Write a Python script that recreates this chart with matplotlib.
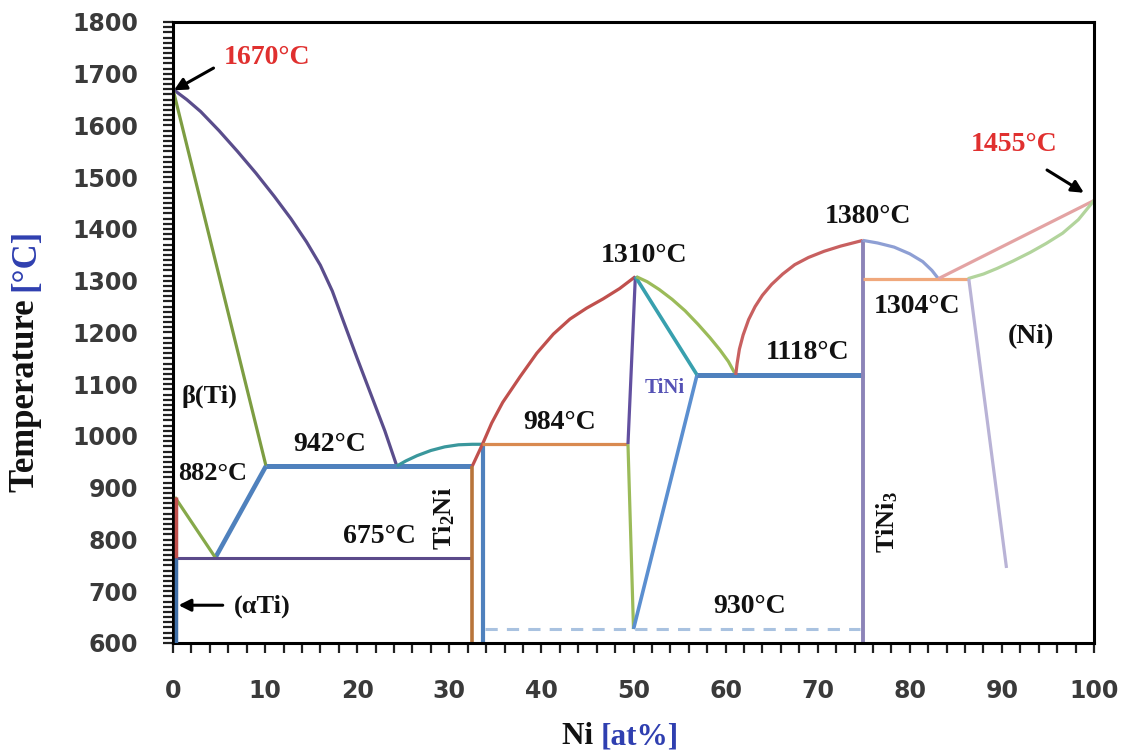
import matplotlib
matplotlib.use('Agg')
import matplotlib.pyplot as plt
from matplotlib.ticker import MultipleLocator

plt.rcParams['mathtext.fontset'] = 'custom'
plt.rcParams['mathtext.rm'] = 'Liberation Serif'
plt.rcParams['mathtext.bf'] = 'Liberation Serif:bold'
plt.rcParams['mathtext.it'] = 'Liberation Serif:italic'

# ---------------- data (Ni at%, Temperature °C) ----------------
liq_ti_x = [0, 1.5, 3, 5, 7, 9, 11, 12.8, 14.5, 16, 17.3, 18.5, 20, 21.5, 23, 24.3]
liq_ti_T = [1670, 1650, 1627, 1590, 1550, 1508, 1463, 1420, 1375, 1330, 1280, 1222, 1150, 1080, 1010, 942]

sol_ti_x = [0, 10.1]
sol_ti_T = [1670, 942]

beta_solvus_x = [4.6, 10.1]
beta_solvus_T = [765, 942]

eut942_x = [10.1, 32.5]
eut942_T = [942, 942]

beta_trans_x = [0.2, 4.6]
beta_trans_T = [882, 765]

alpha_red_x = [0.35, 0.35]
alpha_red_T = [882, 765]

eut765_x = [0, 32.5]
eut765_T = [765, 765]

alpha_blue_x = [0.35, 0.35]
alpha_blue_T = [765, 600]

liq_ti2ni_x = [24.3, 25.3, 26.5, 28, 29.5, 31, 32.5, 33.6]
liq_ti2ni_T = [942, 952, 962, 972, 979, 983, 984, 984]

ti2ni_left_x = [32.5, 32.5]
ti2ni_left_T = [942, 600]

ti2ni_right_x = [33.7, 33.7]
ti2ni_right_T = [984, 600]

liq_mid_x = [32.5, 33.6, 34.6, 35.8, 37.7, 39.5, 41.3, 43.1, 44.9, 46.7, 48.5, 50.2]
liq_mid_T = [942, 984, 1025, 1065, 1115, 1160, 1197, 1226, 1247, 1265, 1285, 1308]

per984_x = [33.6, 49.4]
per984_T = [984, 984]

tini_left_up_x = [49.4, 50.2]
tini_left_up_T = [984, 1308]

tini_left_dn_x = [49.4, 50.0]
tini_left_dn_T = [984, 627]

tini_right_x = [50.0, 56.9]
tini_right_T = [627, 1118]

tini_sol_x = [50.2, 56.9]
tini_sol_T = [1308, 1118]

tini_liq_x = [50.3, 51.5, 52.8, 54.2, 55.6, 57, 58.3, 59.4, 60.3, 61.1]
tini_liq_T = [1308, 1298, 1283, 1264, 1242, 1216, 1190, 1166, 1144, 1118]

eut1118_x = [56.9, 75]
eut1118_T = [1118, 1118]

eutd930_x = [33.9, 74.6]
eutd930_T = [627, 627]

liq_tini3_x = [61.1, 61.25, 61.5, 61.9, 62.5, 63.2, 64, 65, 66.2, 67.5, 69, 70.7, 72.5, 74.9]
liq_tini3_T = [1118, 1140, 1168, 1195, 1225, 1250, 1272, 1293, 1313, 1331, 1345, 1357, 1367, 1378]

tini3_x = [74.9, 74.9]
tini3_T = [1378, 600]

liq_tini3_r_x = [74.9, 76.5, 78.3, 80, 81.4, 82.4, 83.1]
liq_tini3_r_T = [1378, 1373, 1365, 1352, 1337, 1320, 1304]

eut1304_x = [74.9, 86.3]
eut1304_T = [1304, 1304]

liq_ni_x = [83.1, 100]
liq_ni_T = [1304, 1455]

sol_ni_x = [86.3, 88, 89.5, 91.2, 93.1, 94.8, 96.6, 98.3, 100]
sol_ni_T = [1304, 1313, 1324, 1338, 1355, 1372, 1392, 1418, 1455]

solvus_ni_x = [86.4, 90.5]
solvus_ni_T = [1304, 745]

x_ticks = [0, 10, 20, 30, 40, 50, 60, 70, 80, 90, 100]
y_ticks = [600, 700, 800, 900, 1000, 1100, 1200, 1300, 1400, 1500, 1600, 1700, 1800]

# ---------------- figure ----------------
W, H = 1127, 753
fig = plt.figure(figsize=(W / 100, H / 100), dpi=100)
ax = fig.add_axes([173 / W, 1 - 643 / H, (1094 - 173) / W, (643 - 22) / H])
ax.set_xlim(0, 100)
ax.set_ylim(600, 1800)

lw = 2.3
def L(x, y, c, w=lw, **kw):
    ax.plot(x, y, color=c, lw=w, solid_capstyle='butt', solid_joinstyle='round', **kw)

L(liq_ti_x, liq_ti_T, '#5a4d8c')
L(sol_ti_x, sol_ti_T, '#7d9d42')
L(beta_solvus_x, beta_solvus_T, '#4f81bd', 3.3)
L(eut942_x, eut942_T, '#4f81bd', 3.6)
L(beta_trans_x, beta_trans_T, '#86a94a')
L(alpha_red_x, alpha_red_T, '#c0504d', 2.5, zorder=3)
L(eut765_x, eut765_T, '#5b4a8a', 2.2)
L(alpha_blue_x, alpha_blue_T, '#3f6fa8', 2.5, zorder=3)
L(liq_ti2ni_x, liq_ti2ni_T, '#3a979c')
L(ti2ni_left_x, ti2ni_left_T, '#b8743a', 2.6)
L(ti2ni_right_x, ti2ni_right_T, '#4f81bd', 3.0)
L(liq_mid_x, liq_mid_T, '#c0504d')
L(per984_x, per984_T, '#d98a50')
L(tini_left_up_x, tini_left_up_T, '#6250a0')
L(tini_left_dn_x, tini_left_dn_T, '#9bbb59')
L(tini_right_x, tini_right_T, '#5b8fd0', 2.6)
L(tini_sol_x, tini_sol_T, '#38a0ae', 2.6)
L(tini_liq_x, tini_liq_T, '#9bbb59')
L(eut1118_x, eut1118_T, '#4f81bd', 3.6)
ax.plot(eutd930_x, eutd930_T, color='#a9c2e0', lw=2.2, ls=(0, (4, 3)))
L(liq_tini3_x, liq_tini3_T, '#c86060')
L(tini3_x, tini3_T, '#8c84b8', 2.8)
L(liq_tini3_r_x, liq_tini3_r_T, '#8e9fd4')
L(eut1304_x, eut1304_T, '#f0a87c')
L(liq_ni_x, liq_ni_T, '#e3a3a3')
L(sol_ni_x, sol_ni_T, '#b2d49c')
L(solvus_ni_x, solvus_ni_T, '#b9b3d6')

# ---------------- annotations ----------------
serif = 'Liberation Serif'
def T(x, y, s, size=20, color='#111111', **kw):
    ax.text(x, y, s, fontsize=size, fontweight='bold', family=serif,
            color=color, ha='center', va='center', **kw)

def arrow(x0, y0, x1, y1):
    ax.annotate('', xy=(x1, y1), xytext=(x0, y0),
                arrowprops=dict(arrowstyle='-|>', color='black', lw=2.2,
                                mutation_scale=18, shrinkA=0, shrinkB=0))

red = '#e0302f'
T(10.2, 1732, '1670°C', color=red)
arrow(4.4, 1711, 0.1, 1668)
T(91.3, 1564, '1455°C', color=red)
arrow(94.9, 1514, 98.9, 1470)
T(75.5, 1425, '1380°C')
T(51.1, 1348, '1310°C')
T(80.8, 1251, '1304°C')
T(93.2, 1193, '(Ni)')
T(68.9, 1162, '1118°C')
T(53.4, 1093, 'TiNi', size=15, color='#5552b5')
T(42.0, 1027, '984°C')
T(17.0, 983, '942°C')
T(4.3, 928, '882°C', size=19)
T(4.0, 1077, 'β(Ti)', size=19)
T(22.4, 805, '675°C')
T(29.5, 840, r'$\mathbf{Ti_2Ni}$', size=19, rotation=90)
T(77.5, 834, r'$\mathbf{TiNi_3}$', size=19, rotation=90)
T(62.6, 671, '930°C')
T(9.7, 670, '(αTi)', size=19)
arrow(5.4, 673, 0.6, 673)

# ---------------- axes styling ----------------
for sp in ax.spines.values():
    sp.set_linewidth(2.2)
    sp.set_color('black')
ax.set_xticks(x_ticks)
ax.set_yticks(y_ticks)
ax.xaxis.set_minor_locator(MultipleLocator(2))
ax.yaxis.set_minor_locator(MultipleLocator(10))
ax.tick_params(axis='both', which='both', direction='out', length=7, width=1.6,
               color='#222222')
ax.tick_params(axis='x', which='major', pad=19, labelsize=17, labelcolor='#3a3a3a')
ax.tick_params(axis='y', which='major', pad=18, labelsize=17, labelcolor='#3a3a3a')
for lab in ax.get_xticklabels() + ax.get_yticklabels():
    lab.set_fontweight('bold')
    lab.set_family('DejaVu Sans')

# ---------------- axis labels (two colours) ----------------
fig.canvas.draw()
r = fig.canvas.get_renderer()
xl1 = fig.text(562 / W, 1 - 737 / H, 'Ni ', fontsize=22.5, fontweight='bold',
               family=serif, color='#111111', ha='left', va='center')
bb = xl1.get_window_extent(r)
fig.text(bb.x1 / W, 1 - 737 / H, '[at%]', fontsize=22.5, fontweight='bold',
         family=serif, color='#2f3fb0', ha='left', va='center')

yl1 = fig.text(26 / W, 1 - 492 / H, 'Temperature ', fontsize=25, fontweight='bold',
               family=serif, color='#111111', rotation=90, ha='center', va='bottom')
bb = yl1.get_window_extent(r)
fig.text(26 / W, bb.y1 / H, '[°C]', fontsize=25, fontweight='bold',
         family=serif, color='#2f3fb0', rotation=90, ha='center', va='bottom')

fig.savefig('out.png', dpi=100, facecolor='white')
